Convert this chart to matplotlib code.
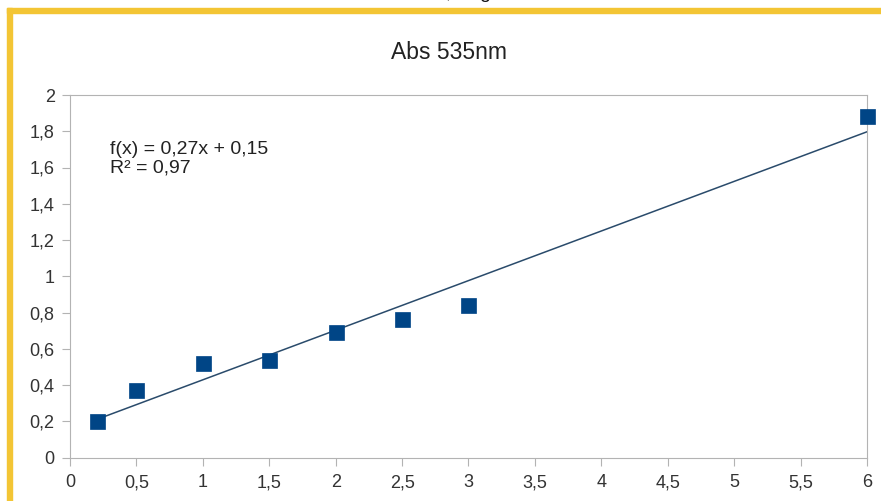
import numpy as np
import matplotlib
matplotlib.use("Agg")
import matplotlib.pyplot as plt
from matplotlib.patches import Rectangle
from matplotlib.ticker import FuncFormatter

# Data
x_vals = [0.2, 0.5, 1.0, 1.5, 2.0, 2.5, 3.0, 6.0]
y_vals = [0.2, 0.37, 0.52, 0.54, 0.69, 0.765, 0.84, 1.885]
x_ticks = [0, 0.5, 1, 1.5, 2, 2.5, 3, 3.5, 4, 4.5, 5, 5.5, 6]
y_ticks = [0, 0.2, 0.4, 0.6, 0.8, 1, 1.2, 1.4, 1.6, 1.8, 2]
title = "Abs 535nm"

plt.rcParams['font.family'] = ['Liberation Sans', 'DejaVu Sans']

W, H = 881, 501
fig = plt.figure(figsize=(W / 100, H / 100), dpi=100)
fig.patch.set_facecolor('white')

# yellow frame (top and left)
yellow = '#F3C534'
fig.patches.append(Rectangle((7 / W, 1 - 13 / H), 1 - 7 / W, 5 / H,
                             transform=fig.transFigure, color=yellow, zorder=0))
fig.patches.append(Rectangle((7 / W, 0), 5 / W, 1 - 8 / H,
                             transform=fig.transFigure, color=yellow, zorder=0))

# cut-off text at the very top (only descenders visible, as in the reference)
fig.text(445 / W, 1 + 1.5 / H, ",", fontsize=14, color='#111111', ha='left', va='baseline')
fig.text(479 / W, 1 + 1.5 / H, "g", fontsize=14, color='#111111', ha='left', va='baseline')

ax = fig.add_axes([70 / W, (H - 457.5) / H, 797 / W, 362.5 / H])
ax.set_xlim(0, 6)
ax.set_ylim(0, 2)

x = np.array(x_vals)
y = np.array(y_vals)
slope, intercept = np.polyfit(x, y, 1)
pred = slope * x + intercept
r2 = 1 - np.sum((y - pred) ** 2) / np.sum((y - y.mean()) ** 2)

xl = np.array([x.min(), x.max()])
ax.plot(xl, slope * xl + intercept, color='#2a4b6b', lw=1.1, zorder=2)
ax.plot(x, y, linestyle='none', marker='s', markersize=10.8,
        markerfacecolor='#004586', markeredgecolor='#004586', markeredgewidth=0.5,
        clip_on=False, zorder=3)

fmt = lambda v: f"{v:g}".replace('.', ',')
line1 = f"f(x) = {fmt(round(slope, 2))}x + {fmt(round(intercept, 2))}"
line2 = f"R² = {fmt(round(r2, 2))}"
fig.text(110 / W, 1 - 149 / H, line1, fontsize=14, color='#222222',
         ha='left', va='center')
fig.text(110 / W, 1 - 168 / H, line2, fontsize=14, color='#222222',
         ha='left', va='center')

ax.set_xticks(x_ticks)
ax.set_yticks(y_ticks)
ax.xaxis.set_major_formatter(FuncFormatter(lambda v, p: fmt(v)))
ax.yaxis.set_major_formatter(FuncFormatter(lambda v, p: fmt(v)))
ax.tick_params(axis='both', colors='#b3b3b3', labelcolor='#333333',
               labelsize=13, length=6, width=0.8, direction='out')
ax.tick_params(axis='x', pad=6)
ax.tick_params(axis='y', pad=5)
for s in ax.spines.values():
    s.set_color('#b3b3b3')
    s.set_linewidth(0.8)

fig.text(449 / W, 1 - 52.5 / H, title, fontsize=16.5, color='#222222',
         ha='center', va='center')

fig.savefig('out.png', dpi=100)
